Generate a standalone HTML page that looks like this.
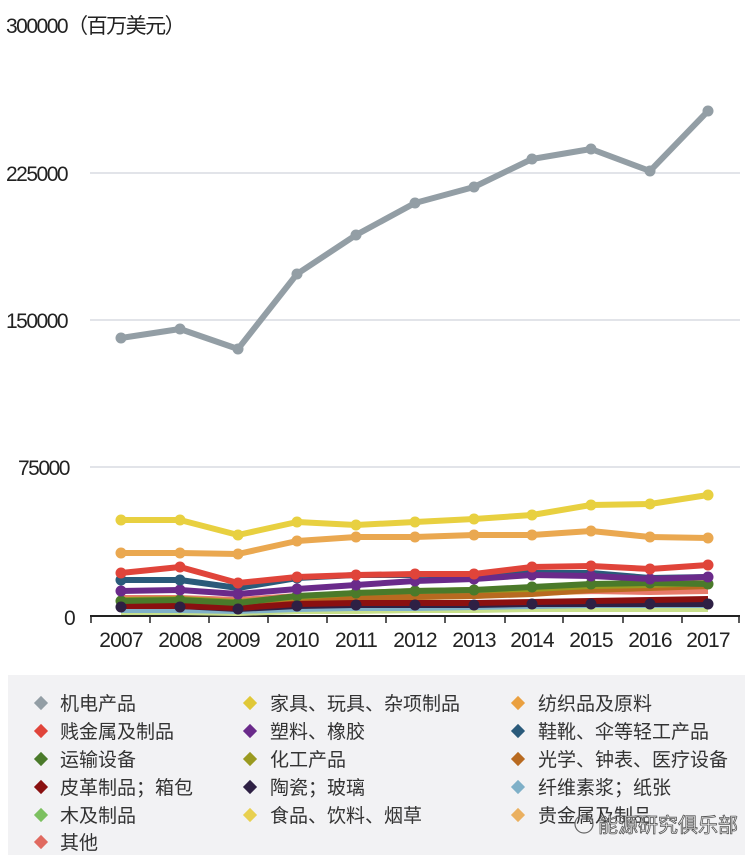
<!DOCTYPE html>
<html><head><meta charset="utf-8"><style>
body{margin:0;background:#fff;width:752px;height:857px;overflow:hidden;font-family:"Liberation Sans","Noto Sans CJK SC",sans-serif}
</style></head><body>
<svg width="752" height="857" xmlns="http://www.w3.org/2000/svg" font-family="Liberation Sans, Noto Sans CJK SC, sans-serif">
<g stroke="#d8dbe2" stroke-width="1.5">
<line x1="90" y1="173" x2="740" y2="173"/><line x1="90" y1="320" x2="740" y2="320"/><line x1="90" y1="467" x2="740" y2="467"/>
</g>
<g font-size="21" fill="#222" letter-spacing="-1.5">
<text x="6" y="33">300000（百万美元）</text>
<text x="6" y="181">225000</text>
<text x="6" y="328">150000</text>
<text x="18" y="475">75000</text>
<text x="64" y="625">0</text>
</g>
<line x1="90" y1="616" x2="740" y2="616" stroke="#222" stroke-width="2"/>
<g stroke="#222" stroke-width="1.5">
<line x1="91" y1="616" x2="91" y2="623"/><line x1="150" y1="616" x2="150" y2="623"/><line x1="209" y1="616" x2="209" y2="623"/><line x1="268" y1="616" x2="268" y2="623"/><line x1="327" y1="616" x2="327" y2="623"/><line x1="386" y1="616" x2="386" y2="623"/><line x1="445" y1="616" x2="445" y2="623"/><line x1="505" y1="616" x2="505" y2="623"/><line x1="563" y1="616" x2="563" y2="623"/><line x1="623" y1="616" x2="623" y2="623"/><line x1="682" y1="616" x2="682" y2="623"/><line x1="739" y1="616" x2="739" y2="623"/>
</g>
<g font-size="21" fill="#222" text-anchor="middle" letter-spacing="-0.8">
<text x="121" y="647">2007</text><text x="180" y="647">2008</text><text x="238" y="647">2009</text><text x="297" y="647">2010</text><text x="356" y="647">2011</text><text x="415" y="647">2012</text><text x="474" y="647">2013</text><text x="532" y="647">2014</text><text x="591" y="647">2015</text><text x="650" y="647">2016</text><text x="708" y="647">2017</text>
</g>
<g fill="none" stroke-width="6" stroke-linejoin="round">
<polyline stroke="#c8e08a" points="121,612 180,612 238,613 297,611 356,611 415,610 474,610 532,609 591,609 650,609 708,609"/>
<polyline stroke="#7fb0c8" points="121,610 180,610 238,611 297,609 356,608 415,608 474,607 532,606 591,605 650,605 708,605"/>
<polyline stroke="#e8b050" points="121,603 180,602 238,605 297,600 356,598 415,597 474,596 532,593 591,591 650,591 708,590"/>
<polyline stroke="#e87a6a" points="121,598 180,598 238,600 297,596 356,595 415,594 474,594 532,592 591,591 650,592 708,591"/>
<polyline stroke="#b86a20" points="121,604 180,603 238,606 297,601 356,598 415,597 474,596 532,594 591,590 650,588 708,586"/>
<polyline stroke="#9a9a20" points="121,600 180,599 238,602 297,597 356,593 415,591 474,590 532,589 591,586 650,585 708,583"/>
<polyline stroke="#2e2044" points="121,606 180,606 238,609 297,606 356,605 415,605 474,605 532,604 591,604 650,604 708,604"/>
<polyline stroke="#8a1010" points="121,606 180,606 238,608 297,604 356,603 415,603 474,603 532,602 591,601 650,600 708,599"/>
<polyline stroke="#4a7a2a" points="121,601 180,600 238,603 297,596 356,593 415,591 474,590 532,587 591,584 650,583 708,584"/>
<polyline stroke="#2a5a7a" points="121,580 180,580 238,588 297,578 356,575 415,575 474,574 532,573 591,573 650,578 708,577"/>
<polyline stroke="#6a2a8a" points="121,591 180,590 238,594 297,589 356,585 415,581 474,579 532,575 591,576 650,579 708,577"/>
<polyline stroke="#e0443a" points="121,573 180,567 238,583 297,577 356,575 415,574 474,574 532,567 591,566 650,569 708,565"/>
<polyline stroke="#eaa850" points="121,553 180,553 238,554 297,541 356,537 415,537 474,535 532,535 591,531 650,537 708,538"/>
<polyline stroke="#e8d040" points="121,520 180,520 238,535 297,522 356,525 415,522 474,519 532,515 591,505 650,504 708,495"/>
<polyline stroke="#939ea5" points="121,338 180,329 238,349 297,274 356,235 415,203 474,187 532,159 591,149 650,171 708,111"/>
</g>
<g fill="#4a7a2a"><circle cx="121" cy="601" r="5.5"/><circle cx="180" cy="600" r="5.5"/><circle cx="238" cy="603" r="5.5"/><circle cx="297" cy="596" r="5.5"/><circle cx="356" cy="593" r="5.5"/><circle cx="415" cy="591" r="5.5"/><circle cx="474" cy="590" r="5.5"/><circle cx="532" cy="587" r="5.5"/><circle cx="591" cy="584" r="5.5"/><circle cx="650" cy="583" r="5.5"/><circle cx="708" cy="584" r="5.5"/></g>
<g fill="#2e2044"><circle cx="121" cy="607" r="5.5"/><circle cx="180" cy="607" r="5.5"/><circle cx="238" cy="609" r="5.5"/><circle cx="297" cy="606" r="5.5"/><circle cx="356" cy="605" r="5.5"/><circle cx="415" cy="605" r="5.5"/><circle cx="474" cy="605" r="5.5"/><circle cx="532" cy="604" r="5.5"/><circle cx="591" cy="604" r="5.5"/><circle cx="650" cy="604" r="5.5"/><circle cx="708" cy="604" r="5.5"/></g>
<g fill="#6a2a8a"><circle cx="121" cy="591" r="5.5"/><circle cx="180" cy="590" r="5.5"/><circle cx="238" cy="594" r="5.5"/><circle cx="297" cy="589" r="5.5"/><circle cx="356" cy="585" r="5.5"/><circle cx="415" cy="581" r="5.5"/><circle cx="474" cy="579" r="5.5"/><circle cx="532" cy="575" r="5.5"/><circle cx="591" cy="576" r="5.5"/><circle cx="650" cy="579" r="5.5"/><circle cx="708" cy="577" r="5.5"/></g>
<g fill="#2a5a7a"><circle cx="121" cy="580" r="5.5"/><circle cx="180" cy="580" r="5.5"/><circle cx="297" cy="578" r="5.5"/></g>
<g fill="#939ea5"><circle cx="121" cy="338" r="5.5"/><circle cx="180" cy="329" r="5.5"/><circle cx="238" cy="349" r="5.5"/><circle cx="297" cy="274" r="5.5"/><circle cx="356" cy="235" r="5.5"/><circle cx="415" cy="203" r="5.5"/><circle cx="474" cy="187" r="5.5"/><circle cx="532" cy="159" r="5.5"/><circle cx="591" cy="149" r="5.5"/><circle cx="650" cy="171" r="5.5"/><circle cx="708" cy="111" r="5.5"/></g>
<g fill="#e8d040"><circle cx="121" cy="520" r="5.5"/><circle cx="180" cy="520" r="5.5"/><circle cx="238" cy="535" r="5.5"/><circle cx="297" cy="522" r="5.5"/><circle cx="356" cy="525" r="5.5"/><circle cx="415" cy="522" r="5.5"/><circle cx="474" cy="519" r="5.5"/><circle cx="532" cy="515" r="5.5"/><circle cx="591" cy="505" r="5.5"/><circle cx="650" cy="504" r="5.5"/><circle cx="708" cy="495" r="5.5"/></g>
<g fill="#eaa850"><circle cx="121" cy="553" r="5.5"/><circle cx="180" cy="553" r="5.5"/><circle cx="238" cy="554" r="5.5"/><circle cx="297" cy="541" r="5.5"/><circle cx="356" cy="537" r="5.5"/><circle cx="415" cy="537" r="5.5"/><circle cx="474" cy="535" r="5.5"/><circle cx="532" cy="535" r="5.5"/><circle cx="591" cy="531" r="5.5"/><circle cx="650" cy="537" r="5.5"/><circle cx="708" cy="538" r="5.5"/></g>
<g fill="#e0443a"><circle cx="121" cy="573" r="5.5"/><circle cx="180" cy="567" r="5.5"/><circle cx="238" cy="583" r="5.5"/><circle cx="297" cy="577" r="5.5"/><circle cx="356" cy="575" r="5.5"/><circle cx="415" cy="574" r="5.5"/><circle cx="474" cy="574" r="5.5"/><circle cx="532" cy="567" r="5.5"/><circle cx="591" cy="566" r="5.5"/><circle cx="650" cy="569" r="5.5"/><circle cx="708" cy="565" r="5.5"/></g>
<rect x="8" y="675" width="737" height="180" fill="#f2f2f4"/>
<g font-size="19" fill="#333">
<g transform="translate(41,703)"><rect x="-5" y="-5" width="10" height="10" transform="rotate(45)" fill="#939ea5"/><text x="19" y="7">机电产品</text></g>
<g transform="translate(41,731)"><rect x="-5" y="-5" width="10" height="10" transform="rotate(45)" fill="#e0443a"/><text x="19" y="7">贱金属及制品</text></g>
<g transform="translate(41,759)"><rect x="-5" y="-5" width="10" height="10" transform="rotate(45)" fill="#4a7a2a"/><text x="19" y="7">运输设备</text></g>
<g transform="translate(41,787)"><rect x="-5" y="-5" width="10" height="10" transform="rotate(45)" fill="#8a1010"/><text x="19" y="7">皮革制品；箱包</text></g>
<g transform="translate(41,815)"><rect x="-5" y="-5" width="10" height="10" transform="rotate(45)" fill="#7cc060"/><text x="19" y="7">木及制品</text></g>
<g transform="translate(41,842)"><rect x="-5" y="-5" width="10" height="10" transform="rotate(45)" fill="#e06a60"/><text x="19" y="7">其他</text></g>
<g transform="translate(250,703)"><rect x="-5" y="-5" width="10" height="10" transform="rotate(45)" fill="#e0c838"/><text x="20" y="7">家具、玩具、杂项制品</text></g>
<g transform="translate(250,731)"><rect x="-5" y="-5" width="10" height="10" transform="rotate(45)" fill="#6a2a8a"/><text x="20" y="7">塑料、橡胶</text></g>
<g transform="translate(250,759)"><rect x="-5" y="-5" width="10" height="10" transform="rotate(45)" fill="#9a9a20"/><text x="20" y="7">化工产品</text></g>
<g transform="translate(250,787)"><rect x="-5" y="-5" width="10" height="10" transform="rotate(45)" fill="#2e2044"/><text x="20" y="7">陶瓷；玻璃</text></g>
<g transform="translate(250,815)"><rect x="-5" y="-5" width="10" height="10" transform="rotate(45)" fill="#e8d050"/><text x="20" y="7">食品、饮料、烟草</text></g>
<g transform="translate(518,703)"><rect x="-5" y="-5" width="10" height="10" transform="rotate(45)" fill="#eaa040"/><text x="20" y="7">纺织品及原料</text></g>
<g transform="translate(518,731)"><rect x="-5" y="-5" width="10" height="10" transform="rotate(45)" fill="#2a5a7a"/><text x="20" y="7">鞋靴、伞等轻工产品</text></g>
<g transform="translate(518,759)"><rect x="-5" y="-5" width="10" height="10" transform="rotate(45)" fill="#b86a20"/><text x="20" y="7">光学、钟表、医疗设备</text></g>
<g transform="translate(518,787)"><rect x="-5" y="-5" width="10" height="10" transform="rotate(45)" fill="#7fb0c8"/><text x="20" y="7">纤维素浆；纸张</text></g>
<g transform="translate(518,815)"><rect x="-5" y="-5" width="10" height="10" transform="rotate(45)" fill="#eab060"/><text x="20" y="7">贵金属及制品</text></g>
</g>
<text x="598" y="832" font-size="20" fill="#fff" stroke="#555" stroke-width="0.8">能源研究俱乐部</text>
<circle cx="584" cy="824" r="9" fill="none" stroke="#666" stroke-width="1.2"/>
</svg>
</body></html>
